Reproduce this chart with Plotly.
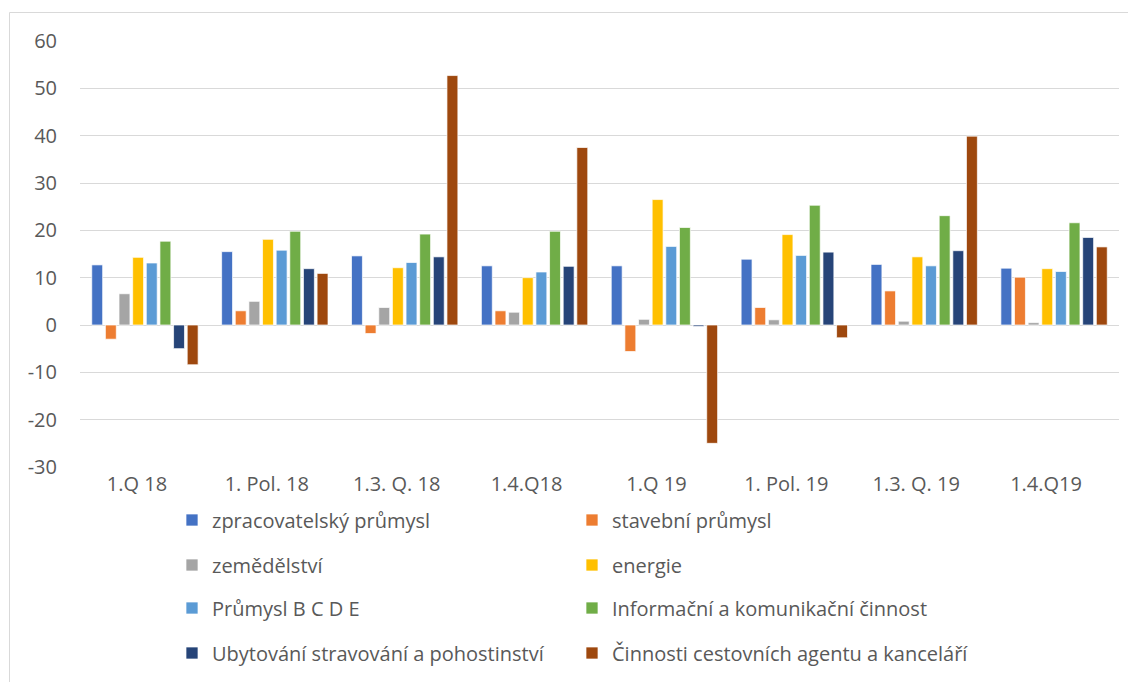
import plotly.graph_objects as go

categories = ["1.Q 18", "1. Pol. 18", "1.3. Q. 18", "1.4.Q18", "1.Q 19", "1. Pol. 19", "1.3. Q. 19", "1.4.Q19"]

series_names = [
    "zpracovatelský průmysl",
    "stavební průmysl",
    "zemědělství",
    "energie",
    "Průmysl B C D E",
    "Informační a komunikační činnost",
    "Ubytování stravování a pohostinství",
    "Činnosti cestovních agentu a kanceláří",
]

zpracovatelsky = [12.7, 15.5, 14.6, 12.5, 12.5, 13.9, 12.8, 12.0]
stavebni = [-3.0, 3.0, -1.8, 3.0, -5.6, 3.7, 7.2, 10.1]
zemedelstvi = [6.6, 5.0, 3.7, 2.7, 1.2, 1.1, 0.8, 0.5]
energie = [14.3, 18.1, 12.1, 10.0, 26.5, 19.1, 14.4, 11.9]
prumysl_bcde = [13.1, 15.8, 13.2, 11.2, 16.6, 14.7, 12.5, 11.3]
informacni = [17.7, 19.8, 19.2, 19.8, 20.6, 25.3, 23.1, 21.6]
ubytovani = [-5.0, 11.9, 14.4, 12.4, -0.3, 15.4, 15.7, 18.5]
cestovni = [-8.4, 10.9, 52.7, 37.5, -25.0, -2.7, 39.9, 16.5]

series_values = [zpracovatelsky, stavebni, zemedelstvi, energie,
                 prumysl_bcde, informacni, ubytovani, cestovni]

y_tick_values = [-30, -20, -10, 0, 10, 20, 30, 40, 50, 60]
y_tick_labels = ["-30", "-20", "-10", "0", "10", "20", "30", "40", "50", "60"]

colors = ["#4472C4", "#ED7D31", "#A5A5A5", "#FFC000",
          "#5B9BD5", "#70AD47", "#264478", "#9E480E"]

W, H = 1136, 682
OFF = 8  # page body margin offset
# plot area in screen (reference) pixels: x 80..1119, y 41..467
ML = 80 - OFF
MT = 41 - OFF
MR = W - (1119 - OFF)
MB = H - (467 - OFF)
PW = W - ML - MR
PH = H - MT - MB

FONT = "Open Sans"
GREY = "#595959"

legend_ids = ["legend", "legend", "legend2", "legend2", "legend3", "legend3", "legend4", "legend4"]

fig = go.Figure()
for name, vals, col, lg in zip(series_names, series_values, colors, legend_ids):
    fig.add_trace(go.Bar(
        x=categories, y=vals, name=name,
        marker=dict(color=col, line=dict(color="rgba(255,255,255,0.7)", width=1)),
        legend=lg,
    ))

def py_to_paper(py):
    # py in screen pixels
    return (H - MB - (py - OFF)) / PH

def px_to_paper(px):
    return ((px - OFF) - ML) / PW

row_centers = [520, 565, 608, 653]
legend_common = dict(
    orientation="h",
    xanchor="left",
    yanchor="middle",
    x=px_to_paper(172),
    font=dict(family=FONT, size=20, color=GREY),
    bgcolor="rgba(0,0,0,0)",
    entrywidth=355,
    entrywidthmode="pixels",
    traceorder="normal",
)

layout_legends = {}
for i, key in enumerate(["legend", "legend2", "legend3", "legend4"]):
    layout_legends[key] = dict(legend_common, y=py_to_paper(row_centers[i]))

fig.update_layout(
    width=W, height=H,
    margin=dict(l=ML, r=MR, t=MT, b=MB, pad=0, autoexpand=False),
    paper_bgcolor="white",
    plot_bgcolor="white",
    barmode="group",
    bargap=0.16,
    bargroupgap=0.2,
    font=dict(family=FONT, color=GREY),
    showlegend=True,
    xaxis=dict(
        type="category",
        showgrid=False,
        showline=False,
        ticks="",
        tickfont=dict(family=FONT, size=20, color=GREY),
        ticklabelstandoff=3,
        ticklabelshift=-8,
    ),
    yaxis=dict(
        range=[-30, 60],
        tickmode="array",
        tickvals=y_tick_values,
        ticktext=y_tick_labels,
        showgrid=True,
        gridcolor="#D9D9D9",
        gridwidth=1,
        zeroline=True,
        zerolinecolor="#D9D9D9",
        zerolinewidth=1,
        showline=False,
        ticks="",
        tickfont=dict(family=FONT, size=20, color=GREY),
        ticklabelstandoff=22,
    ),
    shapes=[dict(
        type="rect", xref="paper", yref="paper",
        x0=px_to_paper(9.5), x1=px_to_paper(W + 20),
        y0=py_to_paper(H + 20), y1=py_to_paper(12.5),
        line=dict(color="#D9D9D9", width=1),
        fillcolor="rgba(0,0,0,0)",
        layer="below",
    )],
    **layout_legends,
)

fig.write_html("out.html")
